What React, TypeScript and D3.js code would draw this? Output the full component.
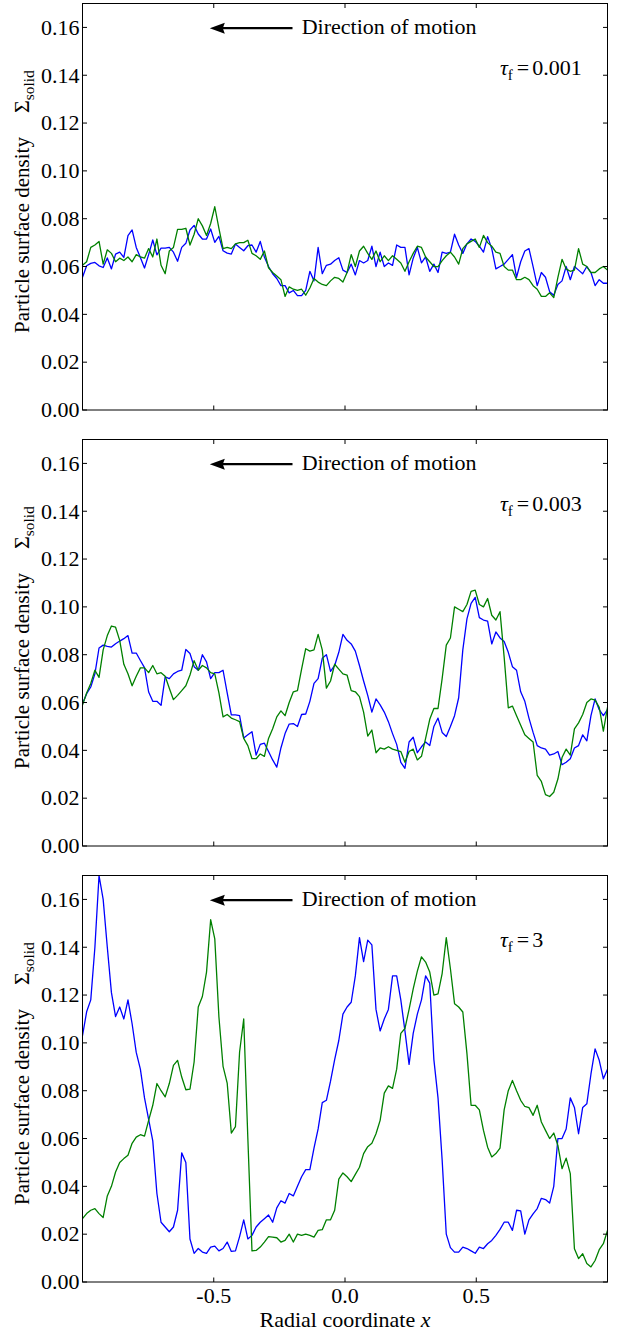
import React from 'react';
import * as d3 from 'd3';

// ---------- data ----------
const X_TICKS = [-0.5, 0, 0.5];
const X_TICK_LABELS = ['-0.5', '0.0', '0.5'];
const Y_TICKS = [0, 0.02, 0.04, 0.06, 0.08, 0.1, 0.12, 0.14, 0.16];
const Y_TICK_LABELS = ['0.00', '0.02', '0.04', '0.06', '0.08', '0.10', '0.12', '0.14', '0.16'];
const TAU_LABELS = ['0.001', '0.003', '3'];

const blue1 = [0.0555,0.0603,0.0613,0.0617,0.0603,0.0596,0.0636,0.059,0.0652,0.066,0.0638,0.0729,0.0753,0.068,0.0638,0.0594,0.065,0.0711,0.0649,0.0677,0.0677,0.068,0.066,0.0622,0.068,0.0697,0.0753,0.0772,0.0736,0.0715,0.0715,0.0757,0.0701,0.0726,0.0666,0.0656,0.0652,0.0694,0.068,0.0666,0.0687,0.069,0.066,0.0705,0.064,0.06,0.057,0.055,0.052,0.052,0.049,0.05,0.0478,0.0478,0.05,0.058,0.054,0.068,0.057,0.0605,0.061,0.0625,0.0637,0.0585,0.0575,0.061,0.0565,0.0625,0.0615,0.0625,0.0685,0.06,0.066,0.06,0.0615,0.0605,0.069,0.068,0.068,0.0565,0.0635,0.068,0.0615,0.064,0.058,0.061,0.0575,0.066,0.0655,0.066,0.0735,0.069,0.0655,0.0695,0.0715,0.0705,0.0685,0.066,0.0725,0.0675,0.059,0.06,0.061,0.063,0.065,0.0555,0.062,0.0665,0.0675,0.06,0.052,0.0575,0.0555,0.0495,0.048,0.0525,0.054,0.06,0.0545,0.06,0.0585,0.057,0.06,0.0575,0.052,0.0545,0.053,0.053];
const green1 = [0.0605,0.062,0.068,0.069,0.0705,0.061,0.067,0.0655,0.062,0.0635,0.0625,0.064,0.062,0.065,0.064,0.0635,0.0675,0.064,0.0715,0.0605,0.057,0.0665,0.068,0.0755,0.0755,0.076,0.069,0.0735,0.08,0.077,0.073,0.078,0.085,0.076,0.0675,0.068,0.0675,0.0695,0.07,0.07,0.071,0.0655,0.0645,0.063,0.0665,0.0595,0.0575,0.056,0.0545,0.0475,0.0515,0.0505,0.05,0.0505,0.048,0.051,0.055,0.0535,0.0525,0.052,0.054,0.0555,0.055,0.0535,0.0575,0.065,0.06,0.0665,0.0685,0.0655,0.063,0.0665,0.062,0.0645,0.0625,0.0645,0.063,0.0615,0.058,0.062,0.0655,0.0685,0.068,0.064,0.062,0.06,0.06,0.0625,0.0645,0.066,0.064,0.061,0.0675,0.0695,0.0705,0.0715,0.068,0.073,0.07,0.0685,0.066,0.0655,0.06,0.0585,0.0585,0.0545,0.0545,0.0555,0.0545,0.052,0.0505,0.0475,0.0475,0.049,0.047,0.0555,0.063,0.059,0.058,0.0585,0.0675,0.061,0.06,0.0575,0.0575,0.059,0.06,0.0585];

const blue2 = [0.0595,0.0637,0.0665,0.072,0.0828,0.084,0.0835,0.0832,0.0846,0.0857,0.0867,0.088,0.0807,0.0807,0.0776,0.0746,0.0644,0.0605,0.0605,0.0588,0.0707,0.07,0.072,0.073,0.0735,0.0822,0.0805,0.075,0.0735,0.08,0.077,0.07,0.0725,0.0725,0.0735,0.064,0.0548,0.0548,0.0545,0.0452,0.0465,0.0478,0.038,0.0425,0.043,0.0395,0.036,0.033,0.041,0.047,0.051,0.0512,0.05,0.055,0.0552,0.0605,0.068,0.07,0.0785,0.08,0.073,0.0755,0.081,0.0885,0.086,0.0845,0.0815,0.0755,0.069,0.063,0.056,0.0615,0.059,0.056,0.052,0.047,0.0425,0.035,0.0325,0.0435,0.0455,0.039,0.0415,0.0435,0.042,0.05,0.0535,0.0475,0.0458,0.05,0.0545,0.062,0.082,0.095,0.1015,0.104,0.0955,0.0945,0.094,0.0845,0.0895,0.087,0.0855,0.081,0.075,0.0735,0.0645,0.0605,0.0535,0.0475,0.042,0.041,0.0405,0.038,0.0385,0.0395,0.034,0.035,0.0365,0.041,0.042,0.0465,0.044,0.0545,0.0615,0.057,0.0545,0.057];
const green2 = [0.059,0.064,0.068,0.0735,0.0705,0.082,0.088,0.092,0.0915,0.086,0.076,0.072,0.067,0.071,0.0745,0.0745,0.0725,0.0755,0.072,0.0725,0.071,0.066,0.0612,0.063,0.065,0.067,0.0715,0.0775,0.0735,0.0755,0.0745,0.0725,0.072,0.064,0.054,0.055,0.0535,0.0528,0.052,0.045,0.042,0.0365,0.0365,0.0385,0.0375,0.045,0.049,0.054,0.0565,0.0545,0.06,0.0645,0.065,0.074,0.0825,0.0815,0.082,0.0885,0.082,0.066,0.069,0.076,0.074,0.072,0.0715,0.065,0.0645,0.0625,0.056,0.046,0.0485,0.039,0.041,0.0405,0.0415,0.0405,0.04,0.0395,0.035,0.0395,0.0405,0.036,0.0375,0.045,0.053,0.0575,0.0575,0.07,0.084,0.087,0.1,0.099,0.098,0.101,0.1065,0.107,0.101,0.1,0.1035,0.0965,0.0945,0.098,0.079,0.0578,0.0585,0.0545,0.0505,0.0465,0.045,0.0435,0.0295,0.027,0.0215,0.0207,0.0225,0.028,0.037,0.0405,0.038,0.049,0.0515,0.055,0.06,0.0615,0.061,0.058,0.048,0.058];

const blue3 = [0.103,0.113,0.118,0.14,0.17,0.16,0.14,0.121,0.111,0.115,0.11,0.118,0.108,0.096,0.089,0.077,0.068,0.059,0.037,0.025,0.023,0.021,0.023,0.03,0.054,0.05,0.018,0.012,0.014,0.0125,0.012,0.0146,0.015,0.013,0.014,0.0167,0.0128,0.013,0.019,0.026,0.018,0.0195,0.023,0.025,0.0265,0.028,0.025,0.031,0.034,0.033,0.037,0.036,0.04,0.044,0.047,0.047,0.056,0.064,0.075,0.076,0.084,0.093,0.101,0.112,0.115,0.117,0.128,0.144,0.134,0.143,0.141,0.114,0.105,0.11,0.114,0.128,0.128,0.118,0.105,0.091,0.104,0.112,0.118,0.128,0.125,0.093,0.077,0.051,0.02,0.0144,0.0125,0.0125,0.0146,0.014,0.013,0.012,0.0146,0.014,0.016,0.0174,0.0195,0.022,0.025,0.025,0.0216,0.03,0.0297,0.02,0.026,0.0285,0.0307,0.035,0.0345,0.033,0.04,0.06,0.06,0.064,0.077,0.073,0.062,0.073,0.0745,0.087,0.0975,0.0927,0.085,0.089];
const green3 = [0.0265,0.0286,0.03,0.0307,0.0286,0.027,0.036,0.04,0.046,0.05,0.0516,0.053,0.058,0.0606,0.0616,0.061,0.0676,0.0739,0.083,0.08,0.0774,0.083,0.0906,0.0927,0.0857,0.0804,0.0807,0.092,0.115,0.1194,0.1296,0.1515,0.1435,0.1108,0.0902,0.0832,0.0623,0.065,0.0962,0.11,0.06,0.013,0.0132,0.0146,0.0167,0.019,0.0188,0.0185,0.0167,0.0174,0.02,0.0167,0.02,0.0195,0.02,0.0195,0.0188,0.0216,0.0219,0.026,0.026,0.03,0.043,0.0456,0.044,0.042,0.045,0.048,0.0537,0.0566,0.058,0.062,0.0676,0.079,0.082,0.081,0.089,0.104,0.106,0.114,0.1226,0.13,0.136,0.1338,0.1296,0.12,0.1205,0.129,0.144,0.131,0.1164,0.115,0.1129,0.0955,0.0739,0.0739,0.072,0.0634,0.0564,0.0523,0.0537,0.056,0.072,0.08,0.0843,0.08,0.076,0.0734,0.0729,0.0697,0.0739,0.0669,0.0634,0.06,0.0623,0.0571,0.0474,0.0518,0.0453,0.0139,0.0098,0.0118,0.0077,0.0063,0.009,0.0135,0.016,0.0216];

const PANEL_BLUE = [blue1, blue2, blue3];
const PANEL_GREEN = [green1, green2, green3];

// ---------- layout ----------
const W = 625;
const H = 1335;
const LEFT = 82.5;
const RIGHT = 607.5;
const PANEL_TOPS = [3.5, 439.5, 875.5];
const PANEL_H = 406.5;
const TXT: React.CSSProperties = { fontFamily: 'Liberation Serif' };
const TICK = 4.5;

function Panel({ idx }: { idx: number }) {
  const top = PANEL_TOPS[idx];
  const bottom = top + PANEL_H;
  const x = d3.scaleLinear().domain([-1, 1]).range([LEFT, RIGHT]);
  const y = d3.scaleLinear().domain([0, 0.17]).range([bottom, top]);
  const blue = PANEL_BLUE[idx];
  const green = PANEL_GREEN[idx];
  const mk = (arr: number[]) => {
    const n = arr.length;
    const xs = d3.range(n).map((i) => -1 + (2 * i) / (n - 1));
    return d3
      .line<number>()
      .x((_, i) => x(xs[i]))
      .y((d) => y(d))(arr) as string;
  };
  const clipId = `clip${idx}`;
  const isBottom = idx === 2;
  const yl = y(0.16);
  const tip = x(-0.515);
  return (
    <g>
      <defs>
        <clipPath id={clipId}>
          <rect x={LEFT} y={top} width={RIGHT - LEFT} height={PANEL_H} />
        </clipPath>
      </defs>
      <g clipPath={`url(#${clipId})`}>
        <path d={mk(blue)} fill="none" stroke="#0000ff" strokeWidth={1.3} strokeLinejoin="round" />
        <path d={mk(green)} fill="none" stroke="#008000" strokeWidth={1.3} strokeLinejoin="round" />
      </g>
      <rect x={LEFT} y={top} width={RIGHT - LEFT} height={PANEL_H} fill="none" stroke="#000" strokeWidth={1} />
      {Y_TICKS.map((t, i) => (
        <g key={`y${i}`}>
          <line x1={LEFT} x2={LEFT + TICK} y1={y(t)} y2={y(t)} stroke="#000" strokeWidth={1} />
          <line x1={RIGHT} x2={RIGHT - TICK} y1={y(t)} y2={y(t)} stroke="#000" strokeWidth={1} />
          <text x={LEFT - 3} y={y(t) + 7.3} textAnchor="end" style={TXT} fontSize={22} fill="#000">
            {Y_TICK_LABELS[i]}
          </text>
        </g>
      ))}
      {X_TICKS.map((t, i) => (
        <g key={`x${i}`}>
          <line x1={x(t)} x2={x(t)} y1={bottom} y2={bottom - TICK} stroke="#000" strokeWidth={1} />
          <line x1={x(t)} x2={x(t)} y1={top} y2={top + TICK} stroke="#000" strokeWidth={1} />
          {isBottom && (
            <text x={x(t)} y={bottom + 21} textAnchor="middle" style={TXT} fontSize={22} fill="#000">
              {X_TICK_LABELS[i]}
            </text>
          )}
        </g>
      ))}
      {/* direction of motion annotation */}
      <line x1={x(-0.2)} x2={tip + 12} y1={yl + 0.8} y2={yl + 0.8} stroke="#000" strokeWidth={2.2} />
      <path
        d={`M${tip},${yl + 0.8} L${tip + 15},${yl + 0.8 - 5.5} L${tip + 13},${yl + 0.8} L${tip + 15},${yl + 0.8 + 5.5} Z`}
        fill="#000"
      />
      <text x={x(-0.165)} y={yl + 6.8} style={TXT} fontSize={22} fill="#000">
        Direction of motion
      </text>
      {/* tau label */}
      <text x={x(0.59)} y={y(0.14)} style={TXT} fontSize={22} fill="#000">
        <tspan fontStyle="italic">τ</tspan>
        <tspan fontSize={15} dy={5}>f</tspan>
        <tspan dy={-5} dx={4}>=</tspan>
        <tspan dx={3}>{TAU_LABELS[idx]}</tspan>
      </text>
      {/* y label */}
      <text transform={`translate(28.5, ${top + 329.5}) rotate(-90)`} style={TXT} fontSize={21} fill="#000">
        Particle surface density
      </text>
      <text transform={`translate(28.5, ${top + 109.5}) rotate(-90)`} style={TXT} fontSize={22} fill="#000">
        Σ<tspan fontSize={15.4} dy={5}>solid</tspan>
      </text>
    </g>
  );
}

export default function App() {
  return (
    <svg
      width={W}
      height={H}
      viewBox={`0 0 ${W} ${H}`}
      style={{ position: 'absolute', left: 0, top: 0, background: '#fff' }}
    >
      <rect x={0} y={0} width={W} height={H} fill="#fff" />
      {[0, 1, 2].map((i) => (
        <Panel key={i} idx={i} />
      ))}
      <text x={(LEFT + RIGHT) / 2} y={1327} textAnchor="middle" style={TXT} fontSize={22} fill="#000">
        Radial coordinate <tspan fontStyle="italic">x</tspan>
      </text>
    </svg>
  );
}
